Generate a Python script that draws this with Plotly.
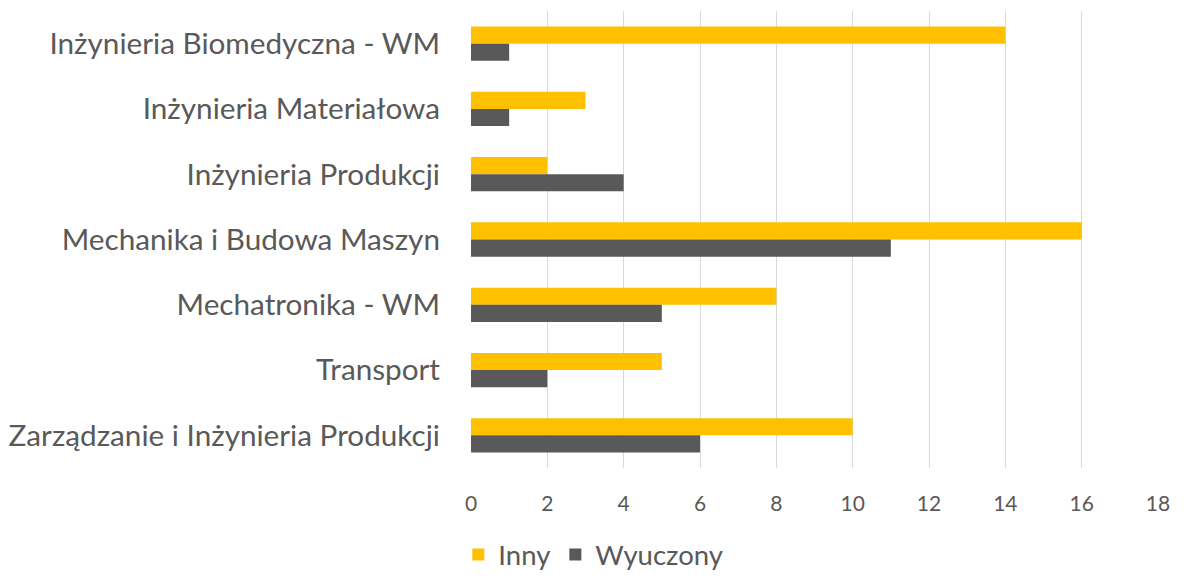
import plotly.graph_objects as go

categories = [
    "Inżynieria Biomedyczna - WM",
    "Inżynieria Materiałowa",
    "Inżynieria Produkcji",
    "Mechanika i Budowa Maszyn",
    "Mechatronika - WM",
    "Transport",
    "Zarządzanie i Inżynieria Produkcji",
]
inny = [14, 3, 2, 16, 8, 5, 10]
wyuczony = [1, 1, 4, 11, 5, 2, 6]
x_ticks = [0, 2, 4, 6, 8, 10, 12, 14, 16, 18]

FONT = "Lato, Open Sans, sans-serif"
TXT = "#595959"

fig = go.Figure()
fig.add_trace(go.Bar(y=categories, x=inny, orientation="h", name="Inny",
                     marker=dict(color="#FFC000", line=dict(width=0))))
fig.add_trace(go.Bar(y=categories, x=wyuczony, orientation="h", name="Wyuczony",
                     marker=dict(color="#595959", line=dict(width=0))))

# page has an 8px body margin: figure spans page x 8..1181, y 8..571
fig.update_layout(
    width=1173, height=563,
    margin=dict(l=463, r=23, t=3, b=103),
    paper_bgcolor="white", plot_bgcolor="white",
    barmode="group", bargap=0.475, bargroupgap=0,
    font=dict(family=FONT, color=TXT),
    showlegend=True,
    legend=dict(orientation="h", xref="container", yref="container",
                x=0.499, xanchor="center", y=0.029, yanchor="middle",
                font=dict(size=27.5, color=TXT), traceorder="normal"),
    xaxis=dict(range=[0, 18], tickvals=x_ticks, showgrid=True, gridcolor="#D9D9D9",
               gridwidth=1.3, zeroline=False, showline=False, ticks="",
               tickfont=dict(size=21, color=TXT), ticklabelstandoff=21,
               fixedrange=True, automargin=False),
    yaxis=dict(autorange="reversed", showgrid=False, zeroline=False, showline=False,
               ticks="", tickfont=dict(size=29.7, color=TXT), ticklabelstandoff=30,
               automargin=False),
)

fig.write_html("out.html")
